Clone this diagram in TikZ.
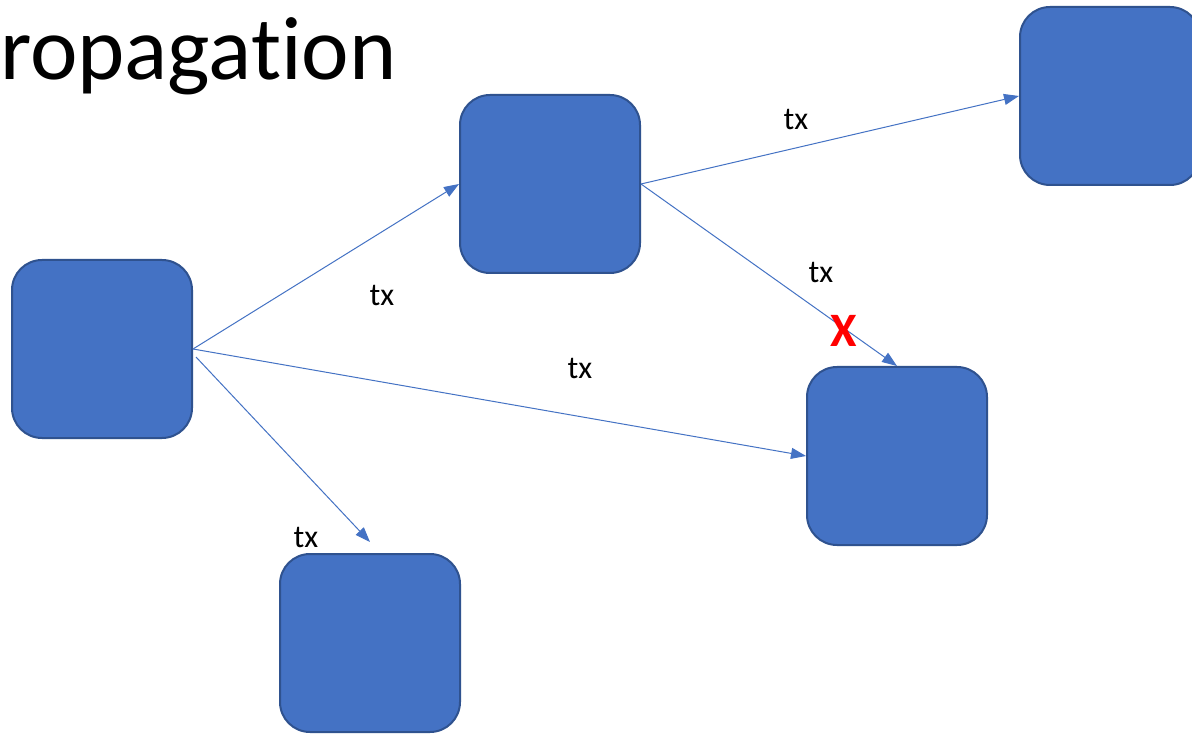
\documentclass[tikz,border=0pt]{standalone}
\usepackage{fontspec}
\setmainfont{Carlito}
\newfontfamily\titlefont[Ligatures=NoCommon,RawFeature=-liga]{Carlito}
\usetikzlibrary{arrows.meta}
\definecolor{boxfill}{HTML}{4472C4}
\definecolor{boxline}{HTML}{2F528F}
\definecolor{arrowc}{HTML}{4472C4}
\begin{document}
\begin{tikzpicture}[x=1pt,y=-1pt,
  blk/.style={draw=boxline,line width=2pt,fill=boxfill,rounded corners=30pt,
    minimum width=180pt,minimum height=178pt,inner sep=0pt},
  link/.style={draw=arrowc,line width=1pt,-{Triangle[length=15pt,width=11pt]}},
  lbl/.style={font=\fontsize{32}{38}\selectfont,anchor=base,inner sep=0pt}]
\useasboundingbox (0,0) rectangle (1192,735);
\fill[white] (0,0) rectangle (1192,735);
\node[anchor=base west,inner sep=0pt,font=\titlefont\fontsize{90}{100}\selectfont] (title) at (0,80) {ropagat\kern0pt ion};
\node[blk] (A) at (102,349) {};
\node[blk] (B) at (550,184) {};
\node[blk] (C) at (1110,96) {};
\node[blk] (D) at (897,456) {};
\node[blk] (E) at (370,643) {};
\coordinate (eTip) at (370,542);
\draw[link] (A.east) -- (B.west);
\draw[link] (A.east) -- (D.west);
\draw[link] ([shift={(3,8)}]A.east) -- (eTip);
\draw[link] (B.east) -- (C.west);
\draw[link] (B.east) -- (D.north);
\node[lbl] (t1) at (382,306) {tx};
\node[lbl] (t2) at (580,379) {tx};
\node[lbl] (t3) at (306,547) {tx};
\node[lbl] (t4) at (796,130) {tx};
\node[lbl] (t5) at (821,283) {tx};
\node[anchor=base,inner sep=0pt,text=red,font=\bfseries\fontsize{48}{52}\selectfont] (x) at (844,347) {X};
\end{tikzpicture}
\end{document}
